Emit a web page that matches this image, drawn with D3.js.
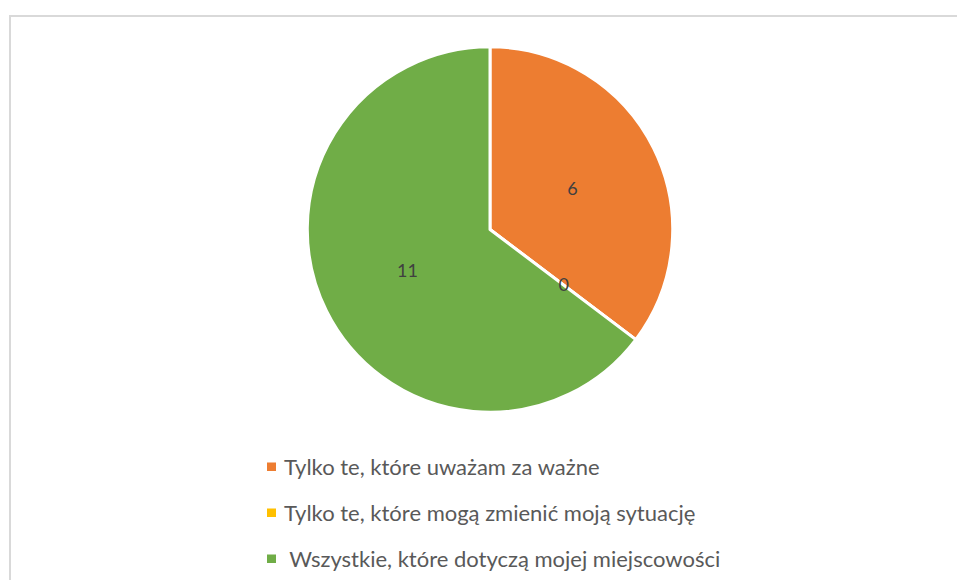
<!DOCTYPE html>
<html>
<head>
<meta charset="utf-8">
<script src="https://cdn.jsdelivr.net/npm/d3@7/dist/d3.min.js"></script>
<style>
  body { margin: 0; background: #fff; }
  svg { display: block; }
</style>
</head>
<body>
<div class="chart"></div>
<script>
const categories = [
    "Tylko te, które uważam za ważne",
    "Tylko te, które mogą zmienić moją sytuację",
    " Wszystkie, które dotyczą mojej miejscowości"
];
const values = [6, 0, 11];
const colors = ["#ED7D31", "#FFC000", "#70AD47"];

const width = 957, height = 580;
const fontFamily = "Lato, 'Open Sans', sans-serif";

const svg = d3.select(".chart")
    .append("svg")
    .attr("width", width)
    .attr("height", height);

// Chart frame (runs off the right and bottom of the picture)
svg.append("rect")
    .attr("x", 10)
    .attr("y", 16)
    .attr("width", width + 20)
    .attr("height", height + 20)
    .attr("fill", "none")
    .attr("stroke", "#d9d9d9")
    .attr("stroke-width", 2);

const data = categories.map((c, i) => ({ name: c, value: values[i], color: colors[i] }));

const cx = 490, cy = 229.5, radius = 182.7;

const pie = d3.pie()
    .sort(null)
    .value((d) => d.value);

const arc = d3.arc()
    .outerRadius(radius)
    .innerRadius(0);

const labelArc = d3.arc()
    .outerRadius(radius * 0.5 * 2)
    .innerRadius(0);

const g = svg.append("g")
    .attr("transform", "translate(" + cx + "," + cy + ")");

const arcs = pie(data);

g.selectAll(".slice")
    .data(arcs)
    .enter().append("path")
    .attr("class", "slice")
    .attr("d", arc)
    .attr("fill", (d) => d.data.color)
    .attr("stroke", "#fff")
    .attr("stroke-width", 3)
    .attr("stroke-linejoin", "round");

// Data labels at half radius
g.selectAll(".label")
    .data(arcs)
    .enter().append("text")
    .attr("class", "label")
    .attr("transform", (d) => {
        const a = (d.startAngle + d.endAngle) / 2;
        const r = radius * 0.505;
        return "translate(" + (Math.sin(a) * r) + "," + (-Math.cos(a) * r) + ")";
    })
    .attr("text-anchor", "middle")
    .attr("dy", "0.35em")
    .attr("font-family", fontFamily)
    .attr("font-size", 18)
    .attr("fill", "#404040")
    .text((d) => d.data.value);

// Legend
const legend = svg.append("g")
    .attr("transform", "translate(267,0)");

const rowY = [467, 513, 559];

const row = legend.selectAll(".legend-row")
    .data(data)
    .enter().append("g")
    .attr("class", "legend-row")
    .attr("transform", (d, i) => "translate(0," + rowY[i] + ")");

row.append("rect")
    .attr("x", 0)
    .attr("y", -4.5)
    .attr("width", 9)
    .attr("height", 8.5)
    .attr("fill", (d) => d.color);

row.append("text")
    .attr("x", 17)
    .attr("y", 8)
    .attr("font-family", fontFamily)
    .attr("font-size", 22)
    .attr("fill", "#595959")
    .attr("xml:space", "preserve")
    .style("white-space", "pre")
    .text((d) => d.name);
</script>
</body>
</html>
